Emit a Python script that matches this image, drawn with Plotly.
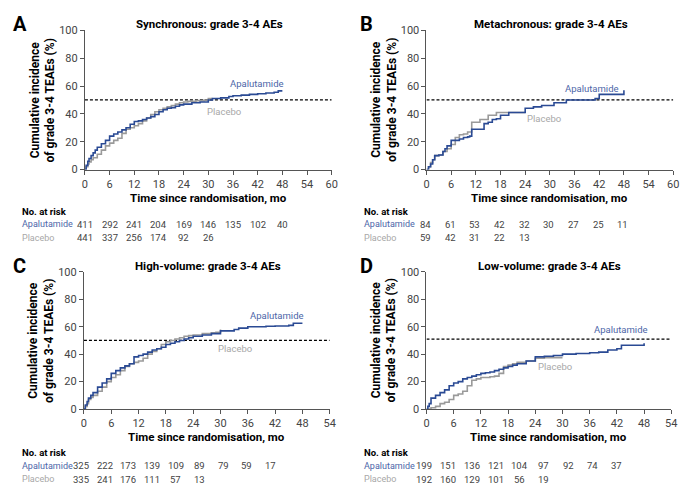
import plotly.graph_objects as go

W, H = 700, 493

# ---------------- data ----------------
months_ticks_60 = [0, 6, 12, 18, 24, 30, 36, 42, 48, 54, 60]
months_ticks_54 = [0, 6, 12, 18, 24, 30, 36, 42, 48, 54]

# Panel A - Synchronous
a_apa_t = [0, 0.3, 0.7, 1, 1.5, 2, 2.5, 3, 4, 5, 6, 7, 8, 9, 10, 11, 12, 13, 14, 15, 16, 17, 18, 19, 20, 21, 22, 23, 24, 26, 28, 30, 31, 33, 35, 36, 38, 40, 42, 44, 46, 47, 48]
a_apa_y = [0, 3, 6, 8, 10, 12, 14, 16, 18.5, 21, 24, 25.5, 27, 28.5, 30, 32.5, 34.5, 35, 36, 37, 38, 39.5, 41.5, 43, 44, 44.5, 45.5, 46.5, 47, 48, 48.5, 50, 51, 51.5, 52.5, 53, 53.5, 54, 54.5, 55, 55.5, 56.5, 56.5]
a_pla_t = [0, 0.3, 0.7, 1, 1.5, 2, 3, 4, 5, 6, 7, 8, 9, 10, 11, 12, 13, 14, 15, 16, 17, 18, 19, 20, 21, 22, 23, 24, 25, 27, 29, 30, 31]
a_pla_y = [0, 2, 4, 5.5, 7, 8.5, 11, 14, 17, 19, 21, 22.5, 26, 29, 30, 31.5, 33, 35, 37, 39.5, 41.5, 43, 44, 45, 46, 47, 48, 48.5, 49, 49.5, 50, 51, 51]

# Panel B - Metachronous
b_apa_t = [0, 0.5, 1, 1.5, 2, 3, 4, 4.5, 5, 6, 7, 8, 9, 10, 10.5, 11, 12, 13, 14, 15, 16, 17, 18, 20, 22, 24, 26, 28, 30, 31, 33, 34, 36, 40, 41, 42, 44, 47.5, 48]
b_apa_y = [0, 2, 4, 7, 10, 10.5, 13, 15, 17, 21, 21, 22, 23, 23.5, 24, 29, 29, 29, 33, 34, 36, 36.5, 39, 41, 41, 44, 45, 46, 46, 48, 48, 50, 50, 50, 51, 54, 54, 54, 57]
b_pla_t = [0, 0.5, 1, 1.5, 2, 3, 4, 5, 6, 7, 8, 9, 10, 11, 12, 13, 15, 17, 20, 24]
b_pla_y = [0, 2, 5, 7, 10, 10.5, 13, 15, 18, 23, 25, 25.5, 27, 34, 34, 36, 39, 41, 41, 41]

# Panel C - High-volume
c_apa_t = [0, 0.3, 0.7, 1, 1.5, 2, 3, 4, 5, 6, 7, 8, 9, 10, 11, 12, 13, 14, 15, 16, 17, 18, 19, 20, 21, 22, 23, 24, 26, 28, 30, 33, 34, 36, 40, 42, 45, 46, 48]
c_apa_y = [0, 3, 5.5, 8, 10, 12, 16, 19, 22, 26, 28, 30, 31.5, 33, 38, 39, 40, 41.5, 43, 44, 45, 47, 48, 49, 50, 51, 52, 53, 54, 55, 57, 58, 59, 60, 60.3, 60.5, 61, 62.5, 62.5]
c_pla_t = [0, 0.3, 0.7, 1, 1.5, 2, 3, 4, 5, 6, 7, 8, 9, 10, 11, 12, 13, 14, 15, 16, 17, 18, 19, 20, 21, 22, 23, 24, 26, 28, 29, 30]
c_pla_y = [0, 2, 4, 7, 8.5, 10, 13, 16, 20, 23, 25, 28, 31, 33, 34, 35, 37, 40, 42, 44, 47, 49, 50, 51, 52, 53, 53.5, 54, 55, 55.5, 56, 58]

# Panel D - Low-volume
d_apa_t = [0, 0.3, 0.6, 1, 2, 3, 4, 5, 6, 7, 8, 9, 10, 11, 12, 13, 14, 15, 16, 17, 18, 19, 20, 22, 24, 26, 28, 30, 33, 36, 38, 40, 42, 43, 45, 47.5, 48]
d_apa_y = [0, 2, 4, 8, 10, 12, 14, 17, 19, 20, 22, 23, 24, 25, 26, 26.5, 27, 28, 29, 30, 31, 32, 33, 35, 38, 38.5, 39, 40, 40.5, 41, 41.5, 43, 44, 46.5, 46.5, 46.5, 48]
d_pla_t = [0, 1, 2, 3, 4, 5, 6, 7, 8, 9, 10, 11, 12, 13, 14, 15, 16, 17, 18, 19, 20, 22, 24, 26, 28, 30]
d_pla_y = [0, 1, 2, 4, 5, 7, 10, 11, 13, 17, 21, 22, 23, 23, 23.5, 24, 26, 31, 32, 33, 34, 35, 37, 37.5, 37.5, 37.5]

# Number at risk
a_risk_apa = [411, 292, 241, 204, 169, 146, 135, 102, 40]
a_risk_pla = [441, 337, 256, 174, 92, 26]
b_risk_apa = [84, 61, 53, 42, 32, 30, 27, 25, 11]
b_risk_pla = [59, 42, 31, 22, 13]
c_risk_apa = [325, 222, 173, 139, 109, 89, 79, 59, 17]
c_risk_pla = [335, 241, 176, 111, 57, 13]
d_risk_apa = [199, 151, 136, 121, 104, 97, 92, 74, 37]
d_risk_pla = [192, 160, 129, 101, 56, 19]

titles = ["Synchronous: grade 3-4 AEs", "Metachronous: grade 3-4 AEs",
          "High-volume: grade 3-4 AEs", "Low-volume: grade 3-4 AEs"]
letters = ["A", "B", "C", "D"]
ref_lines = [50, 50, 50, 51]

# ---------------- styling / layout ----------------
BLUE = "#2a4a94"
BLUE_TXT = "#4d66a8"
GRAY = "#9a9a9a"
GRAY_TXT = "#a8a8a8"
AX = "#555555"
FONT = "Roboto, Liberation Sans, sans-serif"


def px(x):
    return x / W


def py(y):
    return 1 - y / H


def note(x, y, text, size, color, xanchor="center", angle=0, xref="paper", yref="paper"):
    return dict(x=x, y=y, xref=xref, yref=yref, text=text, showarrow=False,
                xanchor=xanchor, yanchor="middle", textangle=angle,
                font=dict(family=FONT, size=size, color=color))


# panel pixel boxes: (x0, x1, ytop(100), ybottom(0))
boxes = [(83, 333, 25, 168), (429, 679, 25, 168),
         (82, 331, 273, 414), (429, 677, 273, 414)]
xmax = [60, 60, 54, 54]

fig = go.Figure()
curves = [(a_apa_t, a_apa_y, a_pla_t, a_pla_y),
          (b_apa_t, b_apa_y, b_pla_t, b_pla_y),
          (c_apa_t, c_apa_y, c_pla_t, c_pla_y),
          (d_apa_t, d_apa_y, d_pla_t, d_pla_y)]

label_pos = [((41.8, 62), (33.8, 42)), ((40.3, 58), (28.6, 37)),
             ((42.5, 68), (33.2, 44)), ((42.9, 58), (28.3, 31))]

annotations = []
for i, (at, ay, pt, pyy) in enumerate(curves):
    k = "" if i == 0 else str(i + 1)
    xa, ya = "x" + k, "y" + k
    fig.add_trace(go.Scatter(x=[0, xmax[i]], y=[ref_lines[i]] * 2, mode="lines",
                             line=dict(color="black", width=1.2, dash="3px,2px"),
                             xaxis=xa, yaxis=ya, showlegend=False, hoverinfo="skip"))
    fig.add_trace(go.Scatter(x=pt, y=pyy, mode="lines", line_shape="hv",
                             line=dict(color=GRAY, width=1.6),
                             xaxis=xa, yaxis=ya, showlegend=False))
    fig.add_trace(go.Scatter(x=at, y=ay, mode="lines", line_shape="hv",
                             line=dict(color=BLUE, width=1.6),
                             xaxis=xa, yaxis=ya, showlegend=False))
    x0, x1, yt, yb = boxes[i]
    ticks = months_ticks_60 if xmax[i] == 60 else months_ticks_54
    axis_common = dict(showgrid=False, zeroline=False, showline=True, linecolor=AX,
                       linewidth=1, ticks="outside", ticklen=4, tickcolor=AX,
                       tickfont=dict(family=FONT, size=11, color="#444444"))
    fig.update_layout(**{
        "xaxis" + k: dict(domain=[px(x0), px(x1)], range=[0, xmax[i]], tickvals=ticks,
                          anchor=ya, **axis_common),
        "yaxis" + k: dict(domain=[py(yb), py(yt)], range=[0, 100], tickvals=[0, 20, 40, 60, 80, 100],
                          anchor=xa, **axis_common),
    })
    (lax, lay), (lpx, lpy) = label_pos[i]
    annotations.append(note(lax, lay, "Apalutamide", 9.5, BLUE_TXT, xref=xa, yref=ya))
    annotations.append(note(lpx, lpy, "Placebo", 9.5, GRAY_TXT, xref=xa, yref=ya))
    cx = (x0 + x1) / 2
    annotations.append(note(px(cx + 1), py(yt - 6), "<b>%s</b>" % titles[i], 11.5, "black"))
    lx = 17 if i in (0, 2) else 368
    annotations.append(note(px(lx), py(yt - 6), "<b>%s</b>" % letters[i], 20, "black"))
    annotations.append(note(px(x0 - 43), py((yt + yb) / 2),
                            "<b>Cumulative incidence<br>of grade 3-4 TEAEs (%)</b>", 12, "black", angle=-90))
    annotations.append(note(px(cx), py(yb + 29), "<b>Time since randomisation, mo</b>", 11.5, "black"))

# risk tables
risk = [(a_risk_apa, a_risk_pla), (b_risk_apa, b_risk_pla), (c_risk_apa, c_risk_pla), (d_risk_apa, d_risk_pla)]
table_x0 = [83, 428, 79, 426]
table_dx = [25, 25, 24, 24.4]
table_y = [211, 211, 459, 459]
table_left = [17, 364, 17, 364]
for i, (ra, rp) in enumerate(risk):
    ty = table_y[i]
    annotations.append(note(px(table_left[i]), py(ty), "<b>No. at risk</b>", 9.5, "black", xanchor="left"))
    annotations.append(note(px(table_left[i]), py(ty + 13), "Apalutamide", 9, BLUE_TXT, xanchor="left"))
    annotations.append(note(px(table_left[i]), py(ty + 27), "Placebo", 9, GRAY_TXT, xanchor="left"))
    for j, v in enumerate(ra):
        annotations.append(note(px(table_x0[i] + j * table_dx[i]), py(ty + 13), str(v), 9.5, "#444444"))
    for j, v in enumerate(rp):
        annotations.append(note(px(table_x0[i] + j * table_dx[i]), py(ty + 27), str(v), 9.5, "#444444"))

fig.update_layout(width=W, height=H, margin=dict(l=0, r=0, t=0, b=0),
                  paper_bgcolor="white", plot_bgcolor="white",
                  annotations=annotations, showlegend=False,
                  font=dict(family=FONT))

fig.write_html("out.html", config={"displayModeBar": False},
               post_script="document.body.style.margin='0';document.body.style.overflow='hidden';")
